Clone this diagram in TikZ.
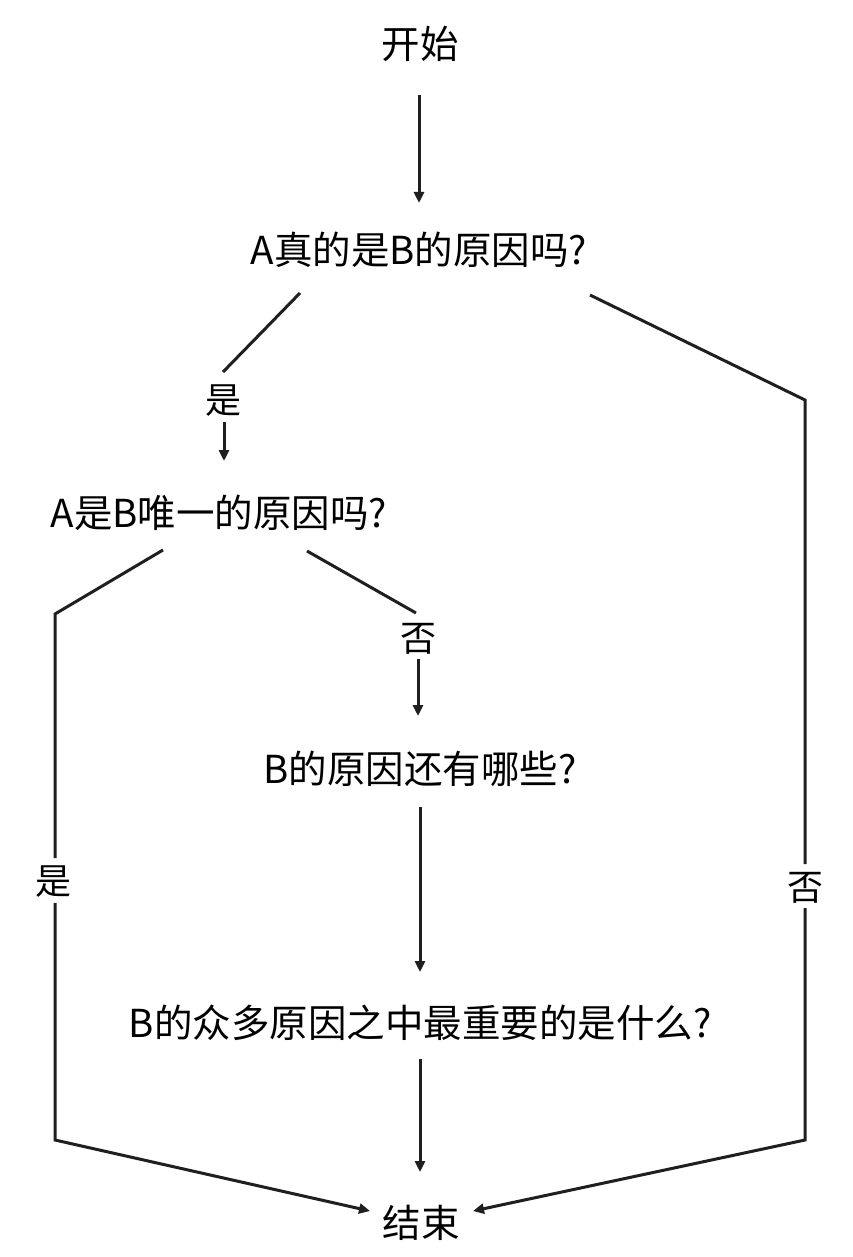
\documentclass[tikz,border=0pt]{standalone}
\usepackage{fontspec}
\setmainfont{Noto Sans CJK SC}
\usetikzlibrary{arrows.meta}
\begin{document}
\begin{tikzpicture}[x=1pt,y=-1pt,
  txt/.style={inner sep=0pt, font=\fontsize{38.5}{44}\selectfont, text height=30pt, text depth=0pt},
  lbl/.style={inner sep=0pt, font=\fontsize{36}{40}\selectfont, text height=28pt, text depth=0pt},
  link/.style={line width=3pt, draw=black!88},
  arr/.style={link, -{Triangle[length=11pt,width=10pt]}}]
  \fill[white] (0,0) rectangle (853,1257);
  \useasboundingbox (0,0) rectangle (853,1257);

  % question and terminal texts
  \node[txt] (start) at (420,44)   {开始};
  \node[txt] (q1)    at (419,250)  {A真的是B的原因吗?};
  \node[txt] (q2)    at (219,512)  {A是B唯一的原因吗?};
  \node[txt] (q3)    at (420,768)  {B的原因还有哪些?};
  \node[txt] (q4)    at (420,1022) {B的众多原因之中最重要的是什么?};
  \node[txt] (end)   at (421,1222) {结束};

  % branch labels
  \node[lbl] (y1) at (223,399) {是};
  \node[lbl] (n2) at (418,637) {否};
  \node[lbl] (y2) at (53,880)  {是};
  \node[lbl] (n1) at (805,886) {否};

  % connector end points and bends
  \coordinate (a0) at (419,95);   \coordinate (a1) at (419,203);
  \coordinate (b0) at (300,293);  \coordinate (b1) at (223,372);
  \coordinate (c0) at (224,422);  \coordinate (c1) at (224,461);
  \coordinate (d0) at (307,551);  \coordinate (d1) at (416,613);
  \coordinate (e0) at (418,659);  \coordinate (e1) at (418,716);
  \coordinate (f0) at (420,807);  \coordinate (f1) at (420,972);
  \coordinate (g0) at (420,1059); \coordinate (g1) at (420,1172);
  \coordinate (h0) at (163,550);  \coordinate (h1) at (55,614);
  \coordinate (h2) at (55,858);   \coordinate (h3) at (55,903);
  \coordinate (h4) at (55,1140);  \coordinate (h5) at (370,1211);
  \coordinate (k0) at (590,295);  \coordinate (k1) at (805,400);
  \coordinate (k2) at (805,864);  \coordinate (k3) at (805,908);
  \coordinate (k4) at (805,1140); \coordinate (k5) at (473,1211);

  % connectors
  \draw[arr]  (a0) -- (a1);
  \draw[link] (b0) -- (b1);
  \draw[arr]  (c0) -- (c1);
  \draw[link] (d0) -- (d1);
  \draw[arr]  (e0) -- (e1);
  \draw[arr]  (f0) -- (f1);
  \draw[arr]  (g0) -- (g1);
  \draw[link] (h0) -- (h1) -- (h2);
  \draw[arr]  (h3) -- (h4) -- (h5);
  \draw[link] (k0) -- (k1) -- (k2);
  \draw[arr]  (k3) -- (k4) -- (k5);
\end{tikzpicture}
\end{document}
